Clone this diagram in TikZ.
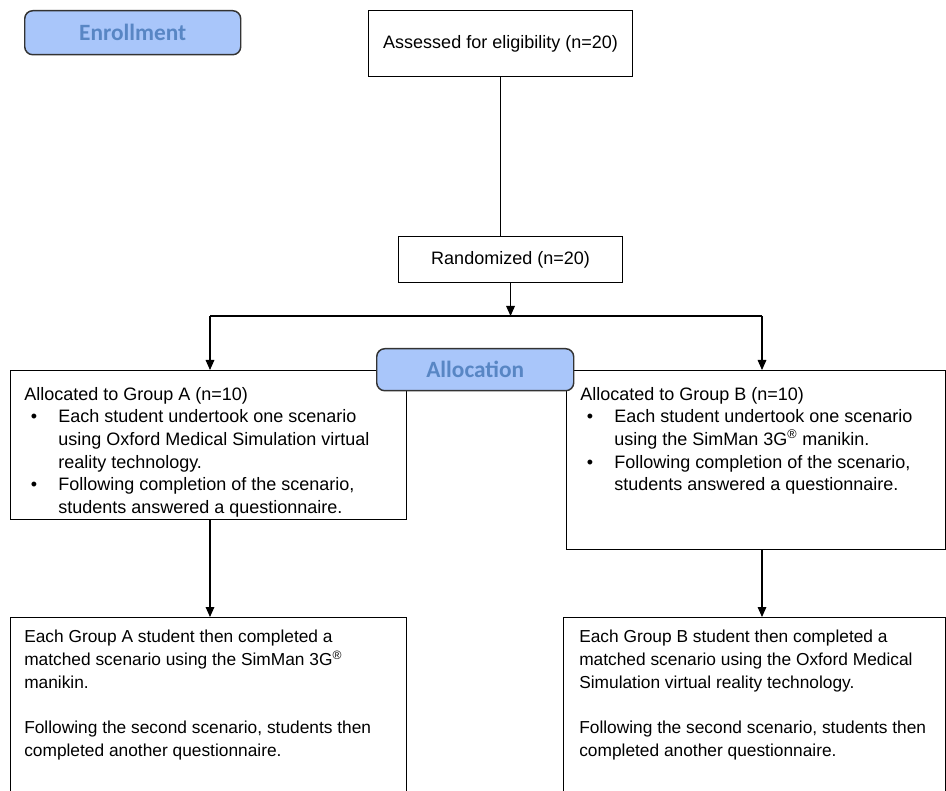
\documentclass[tikz,border=0pt]{standalone}
\usepackage{fontspec}
\setmainfont{Liberation Sans}
\newfontfamily\headfont{Carlito}
\usetikzlibrary{arrows.meta}
\definecolor{headfill}{RGB}{169,198,250}
\definecolor{headtext}{RGB}{88,134,196}
\newcommand\blt{\makebox[25.5pt][l]{\hspace{5pt}\textbullet}}
\newcommand\ind{\hspace*{25.5pt}}
\newcommand\reg{\textsuperscript{\textregistered}}

\tikzset{
  box/.style={draw, line width=0.8pt, anchor=north west, inner sep=0pt, font=\fontsize{13.5}{17}\selectfont},
  head/.style={box, line width=1.1pt, draw=black!80, rounded corners=6pt, fill=headfill, text=headtext, font=\headfont\bfseries\fontsize{17.5}{20}\selectfont},
  txt/.style={anchor=north west, inner sep=0pt, align=left, font=\fontsize{13.5}{17}\selectfont},
}

\begin{document}
\begin{tikzpicture}[x=0.75pt,y=-0.75pt,>={Triangle[length=7.5pt,width=6.5pt]}]
  \clip (0,0) rectangle (946,791);
  % enrollment
  \node[head, minimum width=162pt, minimum height=33pt] (enrol) at (24,10) {Enrollment};
  \node[box, minimum width=198pt, minimum height=49.5pt] (assess) at (368,10) {Assessed for eligibility (n=20)};
  \node[box, minimum width=168pt, minimum height=34.5pt] (rand) at (398,236) {Randomized (n=20)};
  \draw[line width=0.8pt] (assess.south) -- (assess.south |- rand.north);
  % allocation
  \node[box, minimum width=297pt, minimum height=111.75pt] (grpA) at (10,370) {};
  \node[box, minimum width=284.25pt, minimum height=134.25pt] (grpB) at (566,370) {};
  \node[head, minimum width=147.75pt, minimum height=31.5pt] (alloc) at (376,348) {Allocation};
  \node[txt] (txtA) at (24,387) {Allocated to Group A (n=10)\\
    \blt Each student undertook one scenario\\
    \ind using Oxford Medical Simulation virtual\\
    \ind reality technology.\\
    \blt Following completion of the scenario,\\
    \ind students answered a questionnaire.};
  \node[txt] (txtB) at (580,387) {Allocated to Group B (n=10)\\
    \blt Each student undertook one scenario\\
    \ind using the SimMan 3G\reg{} manikin.\\
    \blt Following completion of the scenario,\\
    \ind students answered a questionnaire.};
  \coordinate (split) at (rand.south |- 0,316);
  \coordinate (splitA) at (210,316);
  \coordinate (splitB) at (762,316);
  \draw[->,line width=0.8pt] (rand.south) -- (split);
  \draw[line width=0.8pt] (splitA) -- (splitB);
  \draw[->,line width=0.8pt] (splitA) -- (splitA |- grpA.north);
  \draw[->,line width=0.8pt] (splitB) -- (splitB |- grpB.north);
  % second scenario
  \node[box, minimum width=297pt, minimum height=160pt] (lowA) at (10,617) {};
  \node[box, minimum width=286.5pt, minimum height=160pt] (lowB) at (563,617) {};
  \node[txt, font=\fontsize{13}{17}\selectfont] (txtLA) at (24,630) {Each Group A student then completed a\\
    matched scenario using the SimMan 3G\reg\\
    manikin.\\[17pt]
    Following the second scenario, students then\\
    completed another questionnaire.};
  \node[txt, font=\fontsize{13}{17}\selectfont] (txtLB) at (579,630) {Each Group B student then completed a\\
    matched scenario using the Oxford Medical\\
    Simulation virtual reality technology.\\[17pt]
    Following the second scenario, students then\\
    completed another questionnaire.};
  \draw[->,line width=0.8pt] (splitA |- grpA.south) -- (splitA |- lowA.north);
  \draw[->,line width=0.8pt] (splitB |- grpB.south) -- (splitB |- lowB.north);
\end{tikzpicture}
\end{document}
